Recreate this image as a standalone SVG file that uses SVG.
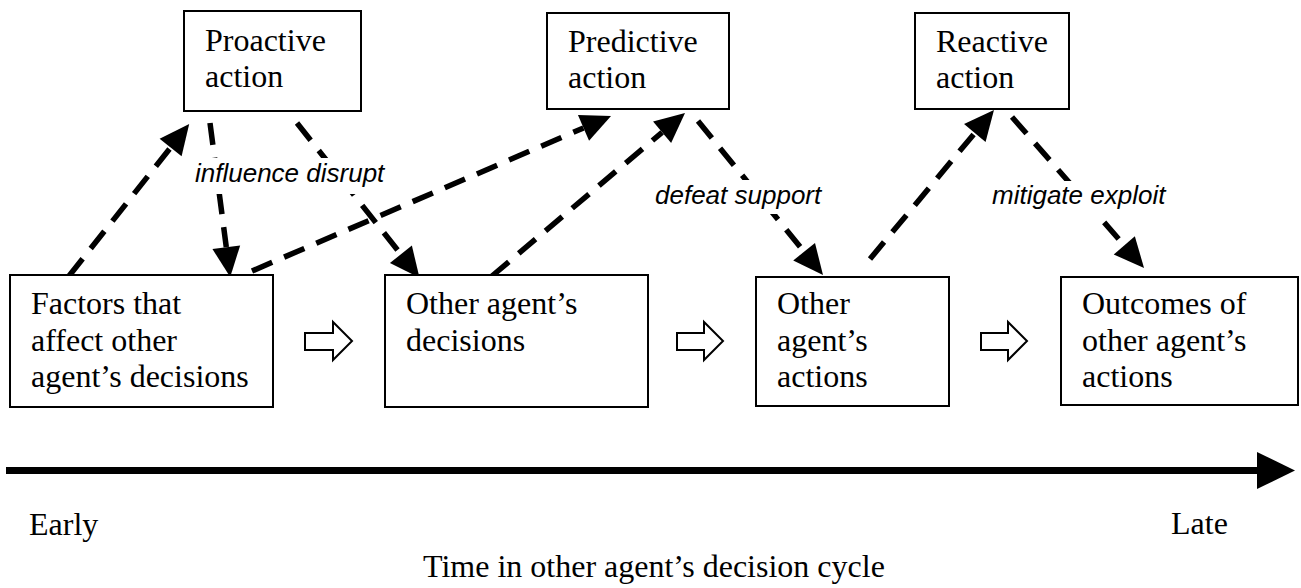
<svg xmlns="http://www.w3.org/2000/svg" width="1301" height="588" viewBox="0 0 1301 588">
  <style>
    .box { fill: #fff; stroke: #000; stroke-width: 2; }
    .lbl { font-family: "Liberation Serif", "Times New Roman", serif; font-size: 32px; fill: #000; }
    .verb { font-family: "Liberation Sans", Arial, sans-serif; font-size: 26px; font-style: italic; fill: #000; }
    .dash { fill: none; stroke: #000; stroke-width: 5.5; stroke-dasharray: 22 13; marker-end: url(#head); }
    .step { fill: #fff; stroke: #000; stroke-width: 2; stroke-linejoin: miter; }
    .mask { fill: #fff; }
  </style>
  <defs>
    <marker id="head" markerUnits="userSpaceOnUse" markerWidth="30" markerHeight="28" refX="0" refY="14" orient="auto" overflow="visible">
      <path d="M0,0 L30,14 L0,28 Z" fill="#000"/>
    </marker>
  </defs>

  <rect width="1301" height="588" fill="#fff"/>

  <!-- dashed influence connectors (lines stop at arrowhead base) -->
  <g id="connectors">
    <line class="dash" x1="69" y1="276" x2="170.6" y2="147.5"/>
    <line class="dash" x1="210" y1="123" x2="226.3" y2="247.2"/>
    <line class="dash" x1="297" y1="123" x2="400.9" y2="254.3"/>
    <line class="dash" x1="252" y1="271" x2="583.5" y2="127.9"/>
    <line class="dash" x1="492" y1="276" x2="662.1" y2="132.3"/>
    <line class="dash" x1="698" y1="121" x2="804.1" y2="251.7"/>
    <line class="dash" x1="870" y1="259" x2="974.8" y2="133.0"/>
    <line class="dash" x1="1012" y1="117" x2="1124.3" y2="245.4"/>
  </g>

  <!-- verb labels, with a white ground that interrupts the dashes -->
  <g id="verb-influence">
    <rect class="mask" x="190" y="158" width="202" height="36"/>
    <text class="verb" x="195" y="182">influence disrupt</text>
  </g>
  <g id="verb-defeat">
    <rect class="mask" x="650" y="180" width="178" height="34"/>
    <text class="verb" x="655" y="204">defeat support</text>
  </g>
  <g id="verb-mitigate">
    <rect class="mask" x="988" y="181" width="184" height="39"/>
    <text class="verb" x="992" y="204">mitigate exploit</text>
  </g>

  <!-- action boxes -->
  <g id="proactive">
    <rect class="box" x="184" y="11" width="177" height="100"/>
    <text class="lbl" x="205" y="51">Proactive</text>
    <text class="lbl" x="205" y="87">action</text>
  </g>
  <g id="predictive">
    <rect class="box" x="547" y="13" width="182" height="96"/>
    <text class="lbl" x="568" y="52">Predictive</text>
    <text class="lbl" x="568" y="88">action</text>
  </g>
  <g id="reactive">
    <rect class="box" x="915" y="13" width="154" height="96"/>
    <text class="lbl" x="936" y="52">Reactive</text>
    <text class="lbl" x="936" y="88">action</text>
  </g>

  <!-- decision-cycle stages -->
  <g id="factors">
    <rect class="box" x="10" y="275" width="263" height="132"/>
    <text class="lbl" x="31" y="314">Factors that</text>
    <text class="lbl" x="31" y="351">affect other</text>
    <text class="lbl" x="31" y="387">agent’s decisions</text>
  </g>
  <g id="decisions">
    <rect class="box" x="385" y="275" width="263" height="132"/>
    <text class="lbl" x="406" y="314">Other agent’s</text>
    <text class="lbl" x="406" y="351">decisions</text>
  </g>
  <g id="actions">
    <rect class="box" x="756" y="277" width="193" height="129"/>
    <text class="lbl" x="777" y="314">Other</text>
    <text class="lbl" x="777" y="351">agent’s</text>
    <text class="lbl" x="777" y="387">actions</text>
  </g>
  <g id="outcomes">
    <rect class="box" x="1061" y="277" width="237" height="128"/>
    <text class="lbl" x="1082" y="314">Outcomes of</text>
    <text class="lbl" x="1082" y="351">other agent’s</text>
    <text class="lbl" x="1082" y="387">actions</text>
  </g>

  <!-- hollow step arrows between stages -->
  <g id="steps">
    <path class="step" d="M305,333 H333 V322 L352,341 L333,360 V350 H305 Z"/>
    <path class="step" d="M677,333 H704 V322 L723,341 L704,360 V350 H677 Z"/>
    <path class="step" d="M981,333 H1008 V322 L1027,341 L1008,360 V350 H981 Z"/>
  </g>

  <!-- time axis -->
  <g id="timeline">
    <rect x="6" y="467" width="1253" height="7" fill="#000"/>
    <path d="M1257,452 L1295,470.5 L1257,489 Z" fill="#000"/>
    <text class="lbl" x="29" y="535">Early</text>
    <text class="lbl" x="1171" y="534">Late</text>
    <text class="lbl" x="423" y="577">Time in other agent’s decision cycle</text>
  </g>
</svg>
